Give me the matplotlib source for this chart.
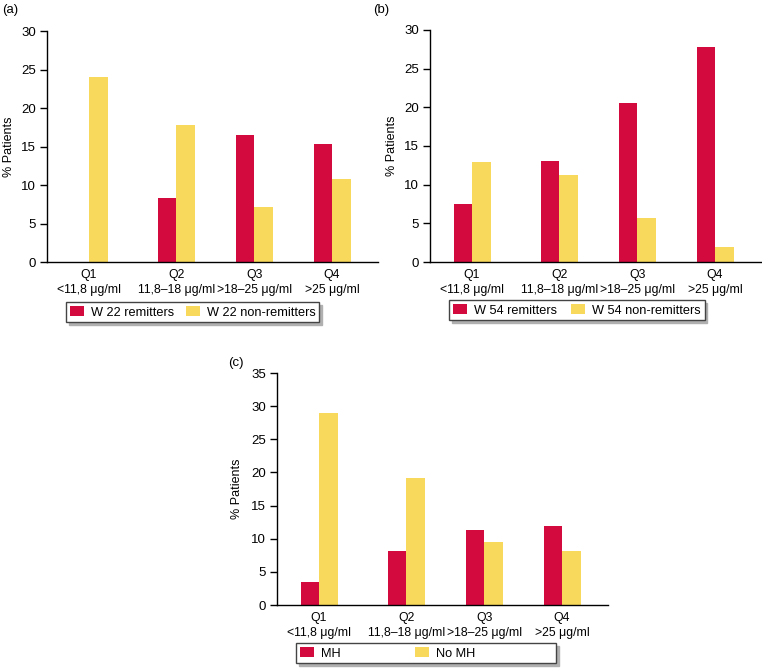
import matplotlib
matplotlib.use("Agg")
from matplotlib import pyplot as plt
import numpy as np

plt.rcParams['font.family'] = ['Liberation Sans', 'DejaVu Sans']
plt.rcParams['font.size'] = 9

quartiles = ['Q1\n<11,8 μg/ml', 'Q2\n11,8–18 μg/ml', 'Q3\n>18–25 μg/ml', 'Q4\n>25 μg/ml']

w22_remit = [0, 8.35, 16.5, 15.3]
w22_nonremit = [24.0, 17.8, 7.2, 10.8]

w54_remit = [7.5, 13.0, 20.5, 27.85]
w54_nonremit = [12.9, 11.25, 5.7, 1.9]

mh = [3.4, 8.1, 11.3, 11.9]
no_mh = [29.0, 19.2, 9.5, 8.2]

RED = '#d20a3d'
YELLOW = '#f8d95c'

W, H = 762, 671
fig = plt.figure(figsize=(W / 100, H / 100), dpi=100)

xpos = np.array([0, 1.12, 2.12, 3.12])
bw = 0.237


def px_axes(l, t, r, b):
    return fig.add_axes([l / W, 1 - b / H, (r - l) / W, (b - t) / H])


def panel(ax, red, yellow, ymax, labels, colspace, legend_box, lpad):
    b1 = ax.bar(xpos - bw / 2, red, bw, color=RED, label=labels[0])
    b2 = ax.bar(xpos + bw / 2, yellow, bw, color=YELLOW, label=labels[1])
    ax.set_xlim(-0.54, 3.71)
    ax.set_ylim(0, ymax)
    ax.set_yticks(np.arange(0, ymax + 1, 5))
    ax.set_xticks(xpos)
    ax.set_xticklabels(quartiles, linespacing=1.3, fontsize=8.85)
    ax.tick_params(axis='x', length=0, pad=5)
    ax.tick_params(axis='y', length=5, width=1, direction='out', pad=3, labelsize=9.5)
    ax.spines[['top', 'right']].set_visible(False)
    ax.spines[['left', 'bottom']].set_linewidth(1)
    ax.set_ylabel('% Patients', labelpad=lpad, fontsize=9)
    lx, ly = legend_box
    leg = fig.legend(handles=[b1, b2], loc='upper left',
                     bbox_to_anchor=(lx / W, 1 - ly / H), ncol=2, fontsize=9.2,
                     frameon=True, fancybox=False, shadow={'color': '#b0b0b0', 'alpha': 1},
                     edgecolor='#444444', handlelength=1.1, handleheight=0.9,
                     handletextpad=0.55, columnspacing=colspace,
                     borderpad=0.3, borderaxespad=0)
    leg.get_frame().set_linewidth(1)


ax_a = px_axes(47, 31, 378, 262)
panel(ax_a, w22_remit, w22_nonremit, 30, ['W 22 remitters', 'W 22 non-remitters'], 0.9, (66, 302), 4)
fig.text(2 / W, 1 - 10 / H, '(a)', fontsize=9.5, va='center')

ax_b = px_axes(430, 30, 761, 262)
panel(ax_b, w54_remit, w54_nonremit, 30, ['W 54 remitters', 'W 54 non-remitters'], 1.1, (449, 300), 4)
fig.text(373 / W, 1 - 10 / H, '(b)', fontsize=9.5, va='center')

ax_c = px_axes(277, 373, 608, 605)
# trailing spaces widen the box as in the original
panel(ax_c, mh, no_mh, 35, ['MH', 'No MH' + ' ' * 22], 5.8, (296, 643), 6)
fig.text(228 / W, 1 - 363 / H, '(c)', fontsize=9.5, va='center')

fig.savefig('out.png', dpi=100)
